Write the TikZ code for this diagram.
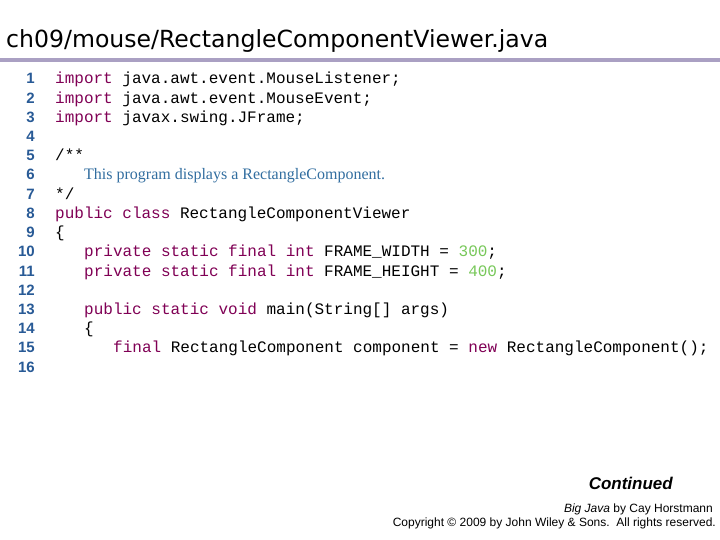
\documentclass[tikz,border=0pt]{standalone}
\usepackage{fontspec}
\setmainfont{Liberation Sans}
\newfontfamily\codef{Liberation Mono}
\newfontfamily\serf{Liberation Serif}
\newfontfamily\titf{DejaVu Sans}
\definecolor{kw}{RGB}{128,0,85}
\definecolor{num}{RGB}{120,200,90}
\definecolor{cmt}{RGB}{50,110,160}
\definecolor{lnum}{RGB}{40,90,150}
\definecolor{bar}{RGB}{170,160,195}
\newcommand{\K}[1]{\textcolor{kw}{#1}}
\newcommand{\N}[1]{\textcolor{num}{#1}}
\begin{document}
\begin{tikzpicture}[x=1pt,y=-1pt,
  code/.style={anchor=base west,inner sep=0,font=\codef\fontsize{16}{16}\selectfont},
  ln/.style={anchor=base east,inner sep=0,text=lnum,font=\bfseries\fontsize{15}{15}\selectfont}]
\useasboundingbox[fill=white] (0,0) rectangle (720,540);
\node[anchor=base west,inner sep=0,font=\titf\fontsize{22}{22}\selectfont] (title) at (6,48) {\resizebox{542pt}{!}{ch09/mouse/RectangleComponentViewer.java}};
\draw[bar,line width=4pt] (0,60) -- (720,60);
\foreach \i in {1,...,16} {\node[ln] (n\i) at (35,{84+(\i-1)*19.2}) {\i};}
\node[code] (l1) at (55,84) {\K{import} java.awt.event.MouseListener;};
\node[code] (l2) at (55,103.2) {\K{import} java.awt.event.MouseEvent;};
\node[code] (l3) at (55,122.4) {\K{import} javax.swing.JFrame;};
\node[code] (l5) at (55,161) {/**};
\node[anchor=base west,inner sep=0,text=cmt,font=\serf\fontsize{16}{16}\selectfont] (l6) at (84,180) {This program displays a RectangleComponent.};
\node[code] (l7) at (55,199.2) {*/};
\node[code] (l8) at (55,218.4) {\K{public} \K{class} RectangleComponentViewer};
\node[code] (l9) at (55,237.6) {\{};
\node[code] (l10) at (84,256.8) {\K{private} \K{static} \K{final} \K{int} FRAME\_WIDTH = \N{300};};
\node[code] (l11) at (84,276) {\K{private} \K{static} \K{final} \K{int} FRAME\_HEIGHT = \N{400};};
\node[code] (l13) at (84,314.4) {\K{public} \K{static} \K{void} main(String[] args)};
\node[code] (l14) at (84,333.6) {\{};
\node[code] (l15) at (113,352.8) {\K{final} RectangleComponent component = \K{new} RectangleComponent();};
\node[anchor=base east,inner sep=0,font=\bfseries\itshape\fontsize{17}{17}\selectfont] (cont) at (673,489) {Continued};
\node[anchor=base east,inner sep=0,font=\fontsize{12}{12}\selectfont] (big) at (713,512) {\textit{Big Java} by Cay Horstmann};
\node[anchor=base east,inner sep=0,font=\fontsize{12}{12}\selectfont] (copy) at (716,526) {Copyright © 2009 by John Wiley \& Sons.\ \ All rights reserved.};
\end{tikzpicture}
\end{document}
